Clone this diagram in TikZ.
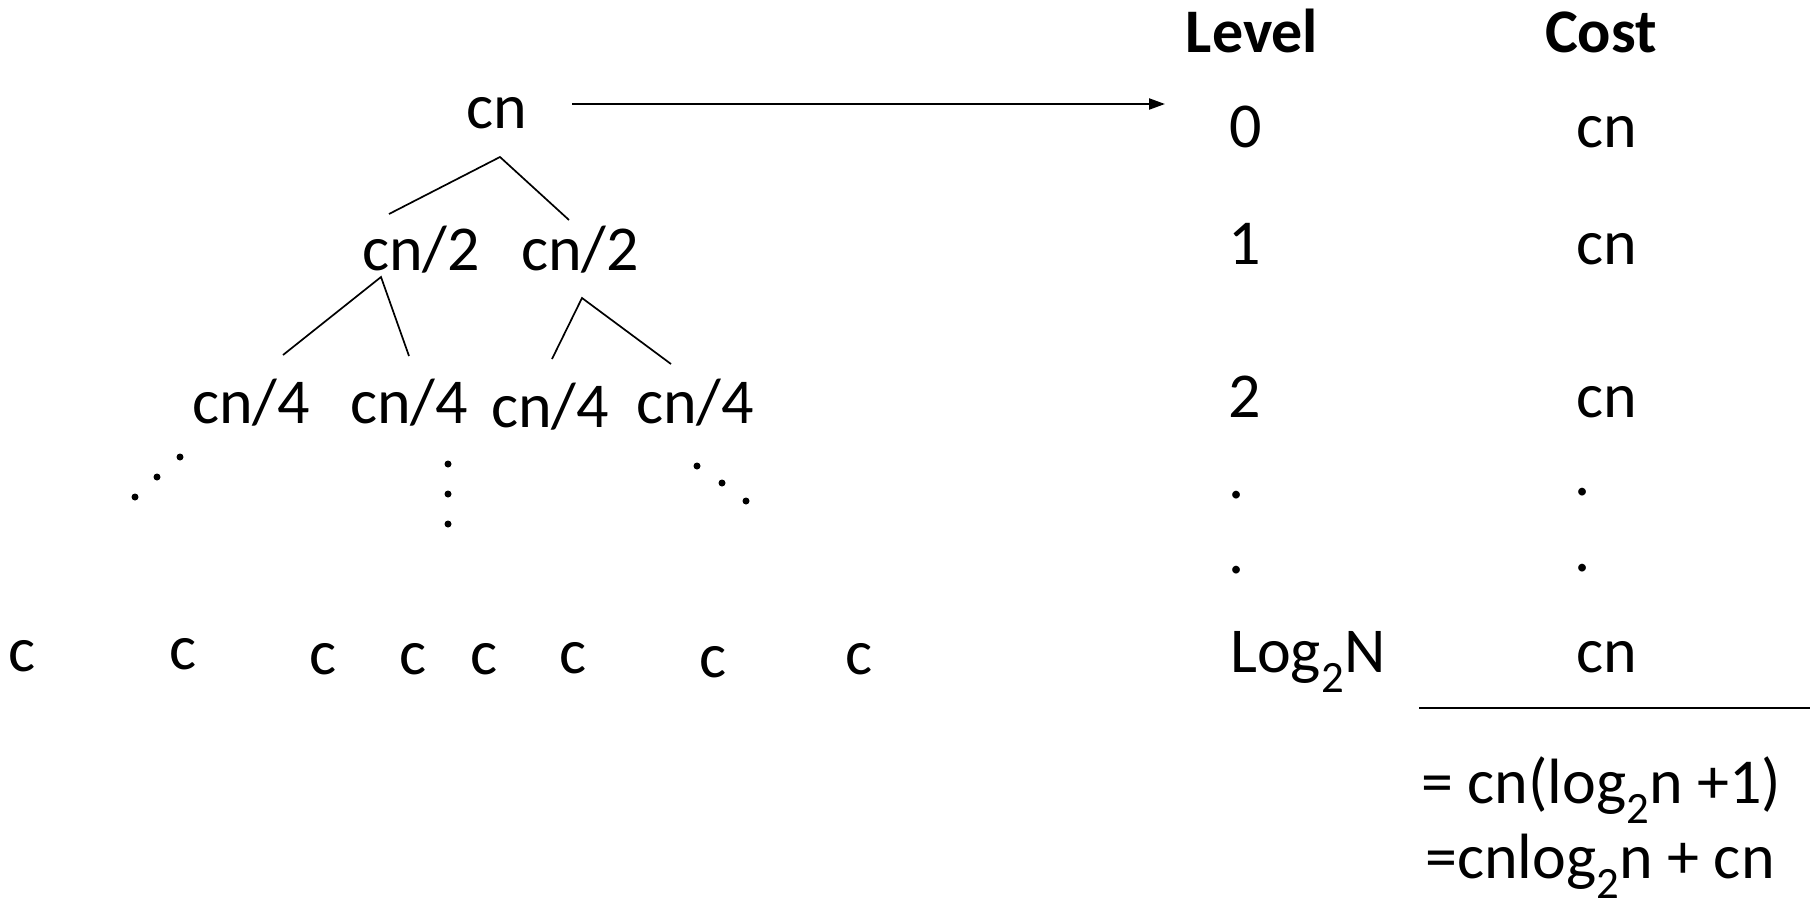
\documentclass[tikz,border=0pt]{standalone}
\usepackage{fontspec}
\setmainfont{Carlito}
\usetikzlibrary{arrows.meta}
\begin{document}
\begin{tikzpicture}[x=1pt,y=-1pt,
  txt/.style={inner sep=0pt, anchor=base, font=\fontsize{64}{76}\selectfont},
  hdr/.style={inner sep=0pt, anchor=base, font=\fontsize{62}{74}\selectfont\bfseries},
  edge/.style={line width=1.7pt},
  dotmark/.style={fill=black, draw=none},
  arrowline/.style={line width=2.2pt, -{Triangle[length=16pt,width=11pt]}},
  rule/.style={line width=2.2pt}]
\useasboundingbox (0,0) rectangle (1819,897);
% tree
\node[txt] (root) at (497,128) {cn};
\node[txt] (a) at (421,270) {cn/2};
\node[txt] (b) at (580,270) {cn/2};
\node[txt] (c1) at (251,423) {cn/4};
\node[txt] (c2) at (409,423) {cn/4};
\node[txt] (c3) at (550,427) {cn/4};
\node[txt] (c4) at (695,423) {cn/4};
\foreach \i/\x/\y in {1/22/671,2/183/669,3/323/674,4/413/674,5/484/674,6/573/673,7/713/677,8/859/674}
  \node[txt] (leaf\i) at (\x,\y) {c};
% connector ends
\coordinate (rootS) at (500,157);
\coordinate (aN) at (389,214);
\coordinate (bN) at (569,220);
\coordinate (aS) at (381,277);
\coordinate (c1N) at (283,355);
\coordinate (c2N) at (409,356);
\coordinate (bS) at (582,298);
\coordinate (c3N) at (552,359);
\coordinate (c4N) at (671,364);
\draw[edge] (aN) -- (rootS) -- (bN);
\draw[edge] (c1N) -- (aS) -- (c2N);
\draw[edge] (c3N) -- (bS) -- (c4N);
% dots
\foreach \x/\y in {135/497,157/477,180/457, 448/464,448/494,448/524, 697/466,722/483,746/501}
  \fill[dotmark] (\x,\y) circle (3.5pt);
% arrow
\coordinate (arrS) at (572,104);
\coordinate (arrE) at (1165,104);
\draw[arrowline] (arrS) -- (arrE);
% table
\node[hdr] (level) at (1252,52) {Level};
\node[hdr] (cost) at (1601,52) {Cost};
\node[txt] (l0) at (1246,147) {0};
\node[txt] (l1) at (1245,264) {1};
\node[txt] (l2) at (1245,417) {2};
\node[txt] (ld1) at (1237,498) {.};
\node[txt] (ld2) at (1237,573) {.};
\node[txt, anchor=base west] (lN) at (1230,672) {Log\textsubscript{2}N};
\node[txt] (k0) at (1607,147) {cn};
\node[txt] (k1) at (1607,264) {cn};
\node[txt] (k2) at (1607,417) {cn};
\node[txt] (kd1) at (1583,495) {.};
\node[txt] (kd2) at (1583,571) {.};
\node[txt] (kN) at (1607,672) {cn};
\coordinate (ruleL) at (1419,708);
\coordinate (ruleR) at (1810,708);
\draw[rule] (ruleL) -- (ruleR);
\node[txt, anchor=base west] (sum1) at (1421,803) {= cn(log\textsubscript{2}n +1)};
\node[txt, anchor=base west] (sum2) at (1425,878) {=cnlog\textsubscript{2}n + cn};
\end{tikzpicture}
\end{document}
